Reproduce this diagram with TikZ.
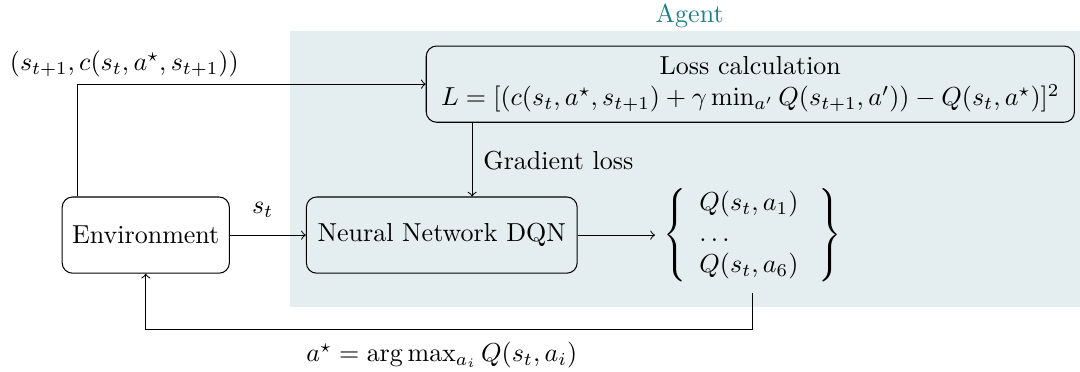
\documentclass[tikz,border=0pt]{standalone}
\usepackage{amsmath}
\usetikzlibrary{calc}
\definecolor{agentbg}{RGB}{228,238,241}
\definecolor{agentfg}{RGB}{30,128,140}
\begin{document}
\begin{tikzpicture}[
  blockbox/.style={draw, rounded corners=4pt, align=center, inner sep=2pt},
  conn/.style={->},
  lbl/.style={inner sep=1pt}
]
\useasboundingbox (0,0) rectangle (14.595,5.027);
\fill[agentbg] (3.92,0.88) rectangle (14.6,4.61);
\node[text=agentfg] (agent) at (9.32,4.81) {Agent};

\node[blockbox, minimum width=8.76cm, minimum height=1.03cm] (loss) at (10.14,3.89)
  {Loss calculation\\ $L=[(c(s_t,a^\star,s_{t+1})+\gamma\min_{a'}Q(s_{t+1},a'))-Q(s_t,a^\star)]^2$};
\node[blockbox, minimum width=2.26cm, minimum height=1.03cm] (env) at (1.97,1.85) {Environment};
\node[blockbox, minimum width=3.66cm, minimum height=1.03cm] (nn) at (5.97,1.85) {Neural Network DQN};
\node[inner xsep=3pt, inner ysep=4pt] (q) at (10.17,1.85)
  {$\left\{\begin{array}{l} Q(s_t,a_1)\\ \dots\\ Q(s_t,a_6)\end{array}\;\right\}$};

\coordinate (up) at ($(env.north west)+(0.21,0)$);
\coordinate (gx) at (6.38,0);
\coordinate (fb) at (0,0.57);

\draw[conn] (up) |- (loss.west);
\node[lbl] (lab1) at (1.68,4.16) {$(s_{t+1},c(s_t,a^\star,s_{t+1}))$};

\draw[conn] (loss.south -| gx) -- (nn.north -| gx);
\node[lbl, anchor=west] (lab2) at (6.49,2.86) {Gradient loss};

\draw[conn] (env.east) -- (nn.west);
\node[lbl] (lab3) at (3.55,2.19) {$s_t$};

\draw[conn] (nn.east) -- (q.west);

\draw[conn] (q.south) -- (q.south |- fb) -| (env.south);
\node[lbl] (lab4) at (5.97,0.23) {$a^\star=\arg\max_{a_i}Q(s_t,a_i)$};
\end{tikzpicture}
\end{document}
